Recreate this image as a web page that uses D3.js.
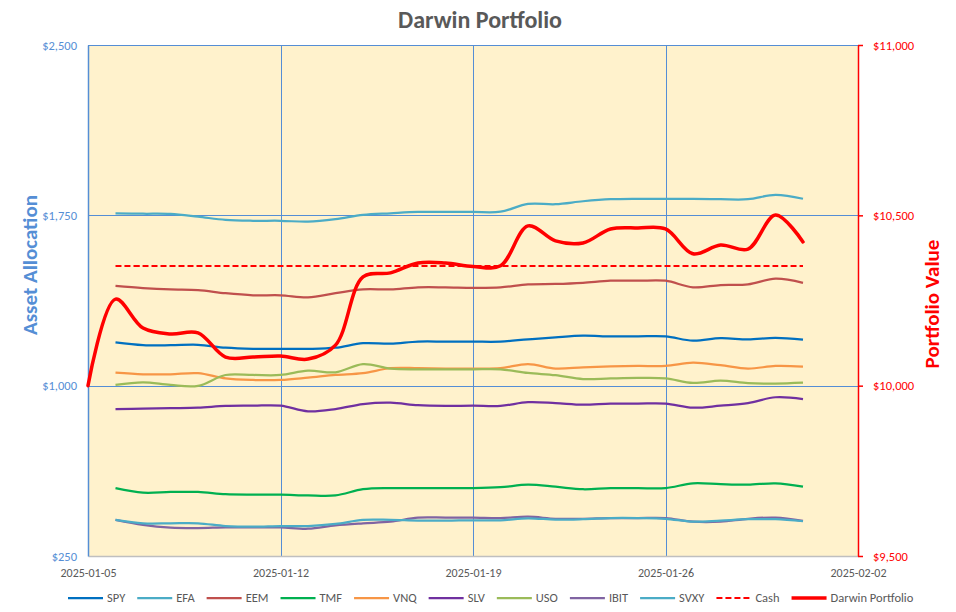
<!DOCTYPE html>
<html>
<head>
<meta charset="utf-8">
<script src="https://cdn.jsdelivr.net/npm/d3@7"></script>
<style>
  body { margin: 0; background: #fff; }
  text { font-family: Calibri, Carlito, "Liberation Sans", Arial, sans-serif; }
</style>
</head>
<body>
<div id="chart"></div>
<script>
// dates of the asset series (daily)
var dates = ["2025-01-06", "2025-01-07", "2025-01-08", "2025-01-09", "2025-01-10", "2025-01-11", "2025-01-12",
    "2025-01-13", "2025-01-14", "2025-01-15", "2025-01-16", "2025-01-17", "2025-01-18", "2025-01-19",
    "2025-01-20", "2025-01-21", "2025-01-22", "2025-01-23", "2025-01-24", "2025-01-25", "2025-01-26",
    "2025-01-27", "2025-01-28", "2025-01-29", "2025-01-30", "2025-01-31"];
var portfolioDates = ["2025-01-05"].concat(dates);

// asset allocation (left axis)
var spy = [1191, 1179, 1178, 1180, 1167, 1162, 1162, 1162, 1167, 1187, 1185, 1194, 1194, 1194, 1194, 1204, 1213, 1220, 1217, 1217, 1217, 1198, 1209, 1204, 1210, 1203];
var efa = [1759, 1757, 1756, 1744, 1730, 1726, 1726, 1722, 1733, 1752, 1759, 1765, 1765, 1765, 1766, 1800, 1799, 1812, 1821, 1823, 1823, 1822, 1821, 1821, 1840, 1823];
var eem = [1439, 1430, 1424, 1421, 1407, 1398, 1398, 1389, 1407, 1424, 1424, 1433, 1433, 1431, 1433, 1446, 1448, 1453, 1462, 1462, 1462, 1433, 1443, 1446, 1471, 1453];
var tmf = [549, 529, 532, 532, 522, 520, 520, 517, 517, 544, 549, 549, 549, 549, 553, 564, 555, 544, 549, 549, 549, 570, 566, 564, 570, 555];
var vnq = [1057, 1050, 1050, 1055, 1032, 1025, 1025, 1035, 1047, 1055, 1077, 1077, 1075, 1075, 1077, 1095, 1075, 1081, 1085, 1087, 1087, 1101, 1090, 1075, 1087, 1084];
var slv = [897, 899, 901, 903, 911, 912, 912, 887, 897, 919, 925, 914, 911, 912, 911, 927, 923, 916, 921, 921, 921, 903, 912, 923, 949, 941];
var uso = [1003, 1015, 1003, 999, 1047, 1047, 1047, 1066, 1059, 1095, 1075, 1072, 1072, 1072, 1072, 1056, 1046, 1029, 1032, 1034, 1032, 1012, 1022, 1011, 1009, 1013];
var ibit = [409, 387, 375, 373, 376, 376, 376, 370, 385, 394, 401, 419, 419, 419, 417, 423, 414, 414, 417, 417, 417, 401, 401, 414, 419, 405];
var svxy = [409, 394, 394, 394, 382, 379, 382, 382, 391, 409, 409, 406, 406, 407, 407, 416, 410, 412, 417, 417, 414, 401, 406, 412, 412, 403];
var cash = [1527, 1527, 1527, 1527, 1527, 1527, 1527, 1527, 1527, 1527, 1527, 1527, 1527, 1527, 1527, 1527, 1527, 1527, 1527, 1527, 1527, 1527, 1527, 1527, 1527, 1527];

// portfolio value (right axis)
var portfolio = [10000, 10254, 10169, 10152, 10155, 10084, 10084, 10087, 10078, 10119, 10319, 10331, 10360, 10360, 10350, 10352, 10469, 10425, 10419, 10460, 10463, 10460, 10387, 10413, 10401, 10501, 10422];

// axis ticks
var leftTicks = [250, 1000, 1750, 2500];
var rightTicks = [9500, 10000, 10500, 11000];
var xTicks = ["2025-01-05", "2025-01-12", "2025-01-19", "2025-01-26", "2025-02-02"];

var parse = d3.timeParse("%Y-%m-%d");

var series = [
    { name: "SPY", values: spy, color: "#0070C0" },
    { name: "EFA", values: efa, color: "#4BACC6" },
    { name: "EEM", values: eem, color: "#C0504D" },
    { name: "TMF", values: tmf, color: "#00B050" },
    { name: "VNQ", values: vnq, color: "#F79646" },
    { name: "SLV", values: slv, color: "#7030A0" },
    { name: "USO", values: uso, color: "#9BBB59" },
    { name: "IBIT", values: ibit, color: "#8064A2" },
    { name: "SVXY", values: svxy, color: "#4BACC6" }
];

// dimensions
var W = 956, H = 612;
var plot = { left: 88, right: 858, top: 45, bottom: 556 };

var svg = d3.select("#chart")
    .append("svg")
    .attr("width", W)
    .attr("height", H);

// scales
var x = d3.scaleTime()
    .domain([parse("2025-01-05"), parse("2025-02-02")])
    .range([plot.left, plot.right]);
var yL = d3.scaleLinear().domain([250, 2500]).range([plot.bottom, plot.top]);
var yR = d3.scaleLinear().domain([9500, 11000]).range([plot.bottom, plot.top]);

var gridColor = "#558ED5";

// plot background
svg.append("rect")
    .attr("x", plot.left).attr("y", plot.top)
    .attr("width", plot.right - plot.left)
    .attr("height", plot.bottom - plot.top)
    .attr("fill", "#FFF2CC");

// gridlines
svg.append("g").selectAll("line")
    .data(leftTicks.slice(1))
    .enter().append("line")
    .attr("x1", plot.left).attr("x2", plot.right)
    .attr("y1", function (d) { return Math.round(yL(d)) + 0.5; })
    .attr("y2", function (d) { return Math.round(yL(d)) + 0.5; })
    .attr("stroke", gridColor).attr("stroke-width", 1);
svg.append("g").selectAll("line")
    .data(xTicks.slice(1, 4))
    .enter().append("line")
    .attr("x1", function (d) { return Math.round(x(parse(d))) + 0.5; })
    .attr("x2", function (d) { return Math.round(x(parse(d))) + 0.5; })
    .attr("y1", plot.top).attr("y2", plot.bottom)
    .attr("stroke", gridColor).attr("stroke-width", 1);

// bottom axis
var xAxis = svg.append("g")
    .attr("transform", "translate(0," + plot.bottom + ")")
    .call(d3.axisBottom(x)
        .tickValues(xTicks.map(parse))
        .tickFormat(d3.timeFormat("%Y-%m-%d"))
        .tickSize(0).tickPadding(12));
xAxis.select(".domain").attr("stroke", "#BFBFBF").attr("stroke-width", 1.5);
xAxis.selectAll("text").attr("fill", "#595959").style("font-size", "12px");

// left axis
var leftAxis = svg.append("g")
    .attr("transform", "translate(" + plot.left + ",0)")
    .call(d3.axisLeft(yL).tickValues(leftTicks).tickFormat(d3.format("$,"))
        .tickSizeInner(0).tickSizeOuter(0).tickPadding(11));
leftAxis.select(".domain").attr("stroke", gridColor).attr("stroke-width", 1.5);
leftAxis.selectAll("text").attr("fill", gridColor).style("font-size", "12.5px");

// right axis
var rightAxis = svg.append("g")
    .attr("transform", "translate(" + plot.right + ",0)")
    .call(d3.axisRight(yR).tickValues(rightTicks).tickFormat(d3.format("$,"))
        .tickSizeInner(5).tickSizeOuter(0).tickPadding(10));
rightAxis.select(".domain").attr("stroke", "#FF0000").attr("stroke-width", 1.5);
rightAxis.selectAll(".tick line").attr("stroke", "#FF0000").attr("stroke-width", 1.5);
rightAxis.selectAll("text").attr("fill", "#FF0000").style("font-size", "12.5px");

// line generators
var lineL = d3.line()
    .x(function (d) { return x(d.date); })
    .y(function (d) { return yL(d.value); })
    .curve(d3.curveCatmullRom.alpha(0.5));
var lineR = d3.line()
    .x(function (d) { return x(d.date); })
    .y(function (d) { return yR(d.value); })
    .curve(d3.curveCatmullRom.alpha(0.5));

function toPoints(ds, vs) {
    return vs.map(function (v, i) { return { date: parse(ds[i]), value: v }; });
}

// asset lines
svg.append("g").selectAll("path")
    .data(series)
    .enter().append("path")
    .attr("fill", "none")
    .attr("stroke", function (d) { return d.color; })
    .attr("stroke-width", 2.25)
    .attr("stroke-linejoin", "round")
    .attr("d", function (d) { return lineL(toPoints(dates, d.values)); });

// cash
svg.append("path")
    .attr("fill", "none")
    .attr("stroke", "#FF0000")
    .attr("stroke-width", 2)
    .attr("stroke-dasharray", "6,3")
    .attr("d", lineL(toPoints(dates, cash)));

// portfolio
svg.append("path")
    .attr("fill", "none")
    .attr("stroke", "#FF0000")
    .attr("stroke-width", 3.5)
    .attr("stroke-linejoin", "round")
    .attr("stroke-linecap", "round")
    .attr("d", lineR(toPoints(portfolioDates, portfolio)));

// title
svg.append("text")
    .attr("x", 480).attr("y", 28)
    .attr("text-anchor", "middle")
    .attr("fill", "#595959")
    .style("font-size", "24px").style("font-weight", "bold")
    .text("Darwin Portfolio");

// axis titles
svg.append("text")
    .attr("transform", "translate(37,265) rotate(-90)")
    .attr("text-anchor", "middle")
    .attr("fill", gridColor)
    .style("font-size", "21px").style("font-weight", "bold")
    .text("Asset Allocation");
svg.append("text")
    .attr("transform", "translate(939,304) rotate(-90)")
    .attr("text-anchor", "middle")
    .attr("fill", "#FF0000")
    .style("font-size", "21px").style("font-weight", "bold")
    .text("Portfolio Value");

// legend
var legendItems = series.map(function (s) { return { name: s.name, color: s.color, width: 2.25, dash: null }; })
    .concat([{ name: "Cash", color: "#FF0000", width: 2, dash: "6,3" },
             { name: "Darwin Portfolio", color: "#FF0000", width: 3.5, dash: null }]);

var legend = svg.append("g").attr("transform", "translate(0,598)");
var lx = 68;
legendItems.forEach(function (d) {
    legend.append("line")
        .attr("x1", lx).attr("x2", lx + 35)
        .attr("y1", 0).attr("y2", 0)
        .attr("stroke", d.color)
        .attr("stroke-width", d.width)
        .attr("stroke-dasharray", d.dash);
    var t = legend.append("text")
        .attr("x", lx + 39).attr("y", 4)
        .attr("fill", "#595959")
        .style("font-size", "12.5px")
        .text(d.name);
    lx += 39 + t.node().getComputedTextLength() + 12;
});
</script>
</body>
</html>
